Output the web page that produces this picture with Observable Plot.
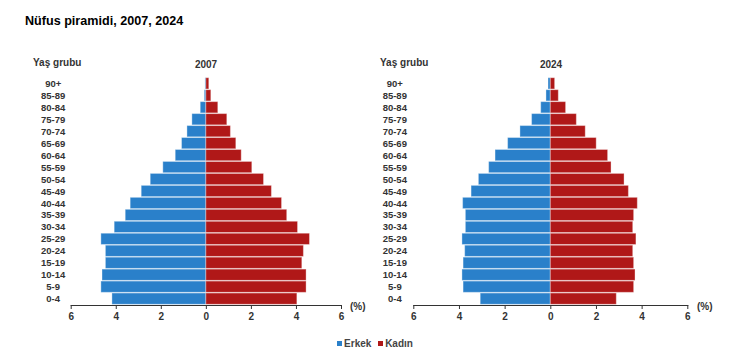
<!DOCTYPE html>
<html><head><meta charset="utf-8">
<script src="https://cdn.jsdelivr.net/npm/d3@7"></script>
<script src="https://cdn.jsdelivr.net/npm/@observablehq/plot@0.6"></script>
<style>
body{margin:0;background:#fff;font-family:"Liberation Sans",Arial,sans-serif;}
#root{position:relative;width:750px;height:357px;overflow:hidden;}
.abs{position:absolute;white-space:nowrap;line-height:1;}
.title{left:25px;top:15px;font-size:12.6px;font-weight:bold;color:#000;}
.lbl{font-size:10px;font-weight:bold;color:#333;}
.legend{top:339px;left:0;width:750px;text-align:center;font-size:10px;font-weight:bold;color:#444;}
.sw{display:inline-block;width:5px;height:5px;margin-right:2px;vertical-align:1px;}
</style></head>
<body><div id="root">
<div class="abs title">Nüfus piramidi, 2007, 2024</div>
<div class="abs lbl" style="left:33px;top:58px;">Yaş grubu</div>
<div class="abs lbl" style="left:380px;top:58px;">Yaş grubu</div>
<div class="abs lbl" style="left:206px;top:60px;transform:translateX(-50%);">2007</div>
<div class="abs lbl" style="left:551px;top:60px;transform:translateX(-50%);">2024</div>
<div class="abs lbl" style="left:350px;top:302px;">(%)</div>
<div class="abs lbl" style="left:697px;top:302px;">(%)</div>
<div class="abs legend"><span class="sw" style="background:#2a80ca"></span>Erkek <span class="sw" style="background:#b01818;margin-left:4px"></span>Kadın</div>
</div>
<script>
const ageGroups = ["0-4","5-9","10-14","15-19","20-24","25-29","30-34","35-39","40-44","45-49","50-54","55-59","60-64","65-69","70-74","75-79","80-84","85-89","90+"];
const male2007 = [4.17,4.66,4.61,4.46,4.46,4.66,4.07,3.58,3.36,2.87,2.47,1.91,1.36,1.08,0.84,0.62,0.25,0.07,0.04];
const female2007 = [4.04,4.45,4.45,4.26,4.33,4.60,4.07,3.59,3.36,2.91,2.56,2.04,1.57,1.33,1.09,0.93,0.53,0.22,0.13];
const male2024 = [3.07,3.82,3.87,3.82,3.75,3.87,3.72,3.72,3.84,3.47,3.15,2.70,2.42,1.87,1.33,0.82,0.42,0.19,0.10];
const female2024 = [2.89,3.65,3.71,3.65,3.61,3.75,3.61,3.65,3.81,3.42,3.23,2.66,2.51,2.01,1.53,1.14,0.67,0.35,0.19];
const xTicks = [-6,-4,-2,0,2,4,6];
const sexes = ["Erkek","Kadın"];
const colors = ["#2a80ca","#b01818"];

function rows(male, female) {
  const out = [];
  ageGroups.forEach((a, i) => {
    out.push({age: a, sex: "Erkek", value: -male[i]});
    out.push({age: a, sex: "Kadın", value: female[i]});
  });
  return out;
}

function pyramid(data, opts) {
  return Plot.plot({
    width: 375, height: 280,
    marginTop: 22, marginBottom: 30,
    marginLeft: opts.ml, marginRight: opts.mr,
    style: {fontFamily: "Liberation Sans, Arial, sans-serif", fontSize: "10px", fontWeight: "bold", color: "#333", background: "transparent"},
    x: {domain: [-6, 6], label: null},
    y: {domain: ageGroups.slice().reverse(), label: null, padding: 0.06, round: false},
    color: {domain: sexes, range: colors},
    marks: [
      Plot.barX(data, {x1: 0, x2: "value", y: "age", fill: "sex", stroke: "#fff", strokeOpacity: 0.35, strokeWidth: 1}),
      Plot.axisY({tickSize: 0, tickPadding: opts.pad, textAnchor: "middle", fill: "#333", fontSize: 9.5, fontWeight: "bold"}),
      Plot.axisX({ticks: xTicks, tickFormat: d => Math.abs(d), tickSize: 4, tickPadding: 3, fill: "#333", stroke: "#333", fontSize: 10, fontWeight: "bold"}),
      Plot.frame({anchor: "bottom", stroke: "#333"})
    ]
  });
}

const root = document.getElementById("root");
const p1 = pyramid(rows(male2007, female2007), {ml: 70.7, mr: 34, pad: 18});
const p2 = pyramid(rows(male2024, female2024), {ml: 38.3, mr: 62.7, pad: 19});
for (const [p, left] of [[p1, 0], [p2, 375]]) {
  p.style.position = "absolute";
  p.style.left = left + "px";
  p.style.top = "55px";
  root.appendChild(p);
}
</script>
</body></html>
